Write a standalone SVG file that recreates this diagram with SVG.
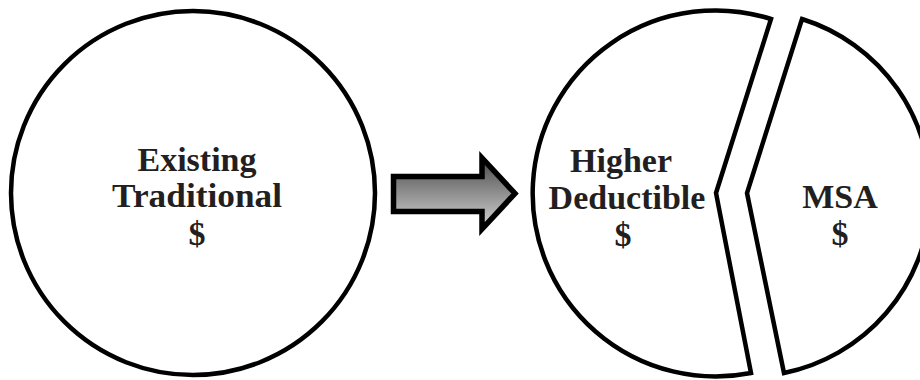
<svg xmlns="http://www.w3.org/2000/svg" width="920" height="380" viewBox="0 0 920 380">
<style>
.shape{fill:#fff;stroke:#000;stroke-width:4.5;stroke-linejoin:miter}
.lbl{font-family:"Liberation Serif","DejaVu Serif",serif;font-weight:bold;font-size:34px;fill:#231f20;text-anchor:middle}
</style>
<defs>
<linearGradient id="ag" gradientUnits="userSpaceOnUse" x1="0" y1="155" x2="0" y2="233">
<stop offset="0" stop-color="#444"/>
<stop offset="1" stop-color="#ddd"/>
</linearGradient>
</defs>
<rect width="920" height="380" fill="#fff"/>
<g id="existing">
<circle class="shape" cx="193" cy="193" r="182"/>
<text class="lbl" x="197" y="171">Existing</text>
<text class="lbl" x="197" y="207" textLength="170" lengthAdjust="spacingAndGlyphs">Traditional</text>
<text class="lbl" x="197" y="245">$</text>
</g>
<g id="connectors">
<polygon points="393.5,176.5 482,176.5 482,158 515,193.5 482,229 482,211.5 393.5,211.5" fill="url(#ag)" stroke="#000" stroke-width="5.5" stroke-linejoin="miter"/>
</g>
<g id="higher-deductible">
<path class="shape" d="M771 19 A183 183 0 1 0 751 373 L716 193 Z"/>
<text class="lbl" x="621" y="172">Higher</text>
<text class="lbl" x="627" y="209">Deductible</text>
<text class="lbl" x="623" y="246">$</text>
</g>
<g id="msa">
<path class="shape" d="M802 19 A183 183 0 0 1 784 373 L747 193 Z"/>
<text class="lbl" x="840" y="208">MSA</text>
<text class="lbl" x="840" y="245">$</text>
</g>
</svg>
